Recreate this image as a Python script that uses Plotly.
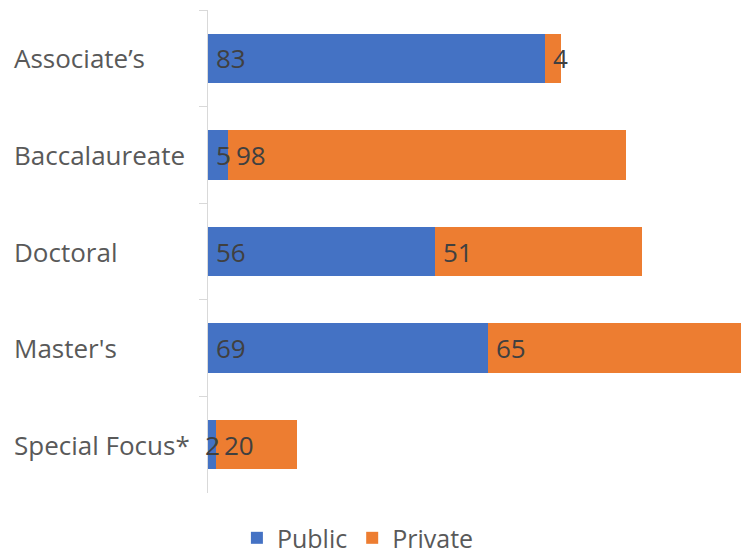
import plotly.graph_objects as go

categories = ["Associate\u2019s", "Baccalaureate", "Doctoral", "Master's", "Special Focus*"]
public = [83, 5, 56, 69, 2]
private = [4, 98, 51, 65, 20]

FONT = "Open Sans"
LABEL_SIZE = 26
NUM_SIZE = 26
X_MAX = 131.3
PLOT_W = 533
DIGIT_W = 14

fig = go.Figure()
series = [("Public", public, "#4472C4"), ("Private", private, "#ED7D31")]
bases = [[0] * len(public), list(public)]
for (name, vals, color), base in zip(series, bases):
    fig.add_trace(go.Bar(
        y=categories, x=vals, name=name, orientation="h",
        marker=dict(color=color, line=dict(width=0)),
    ))
    for cat, v, b in zip(categories, vals, base):
        seg_px = v * PLOT_W / X_MAX
        txt_px = DIGIT_W * len(str(v))
        if seg_px >= txt_px:
            fig.add_annotation(x=b, y=cat, xref="x", yref="y", text=str(v), showarrow=False,
                               xanchor="left", yanchor="middle", xshift=6,
                               font=dict(family=FONT, size=NUM_SIZE, color="#404040"))
        else:
            fig.add_annotation(x=b + v / 2, y=cat, xref="x", yref="y", text=str(v), showarrow=False,
                               xanchor="center", yanchor="middle",
                               font=dict(family=FONT, size=NUM_SIZE, color="#404040"))

for cat in categories:
    fig.add_annotation(x=-(208 - 12) / PLOT_W, y=cat, xref="paper", yref="y", text=cat,
                       showarrow=False, xanchor="left", yanchor="middle",
                       font=dict(family=FONT, size=LABEL_SIZE, color="#595959"))

fig.update_layout(
    barmode="stack", bargap=0.49,
    width=741, height=557,
    margin=dict(l=208, r=0, t=10, b=64, autoexpand=False),
    plot_bgcolor="white", paper_bgcolor="white",
    font=dict(family=FONT, size=LABEL_SIZE, color="#595959"),
    showlegend=True,
    legend=dict(orientation="h", xref="container", yref="container", x=0.483, xanchor="center",
                y=0.034, yanchor="middle", font=dict(size=25, color="#595959"),
                itemwidth=30, traceorder="normal"),
)
fig.update_xaxes(range=[0, X_MAX], visible=False, showgrid=False)
fig.update_yaxes(autorange="reversed", showline=True, linecolor="#D9D9D9", linewidth=1,
                 ticks="outside", tickson="boundaries", ticklen=8, tickcolor="#D9D9D9",
                 showgrid=False, showticklabels=False, automargin=False)
fig.write_html("out.html", config={"displayModeBar": False},
               post_script="document.body.style.margin='0';")
